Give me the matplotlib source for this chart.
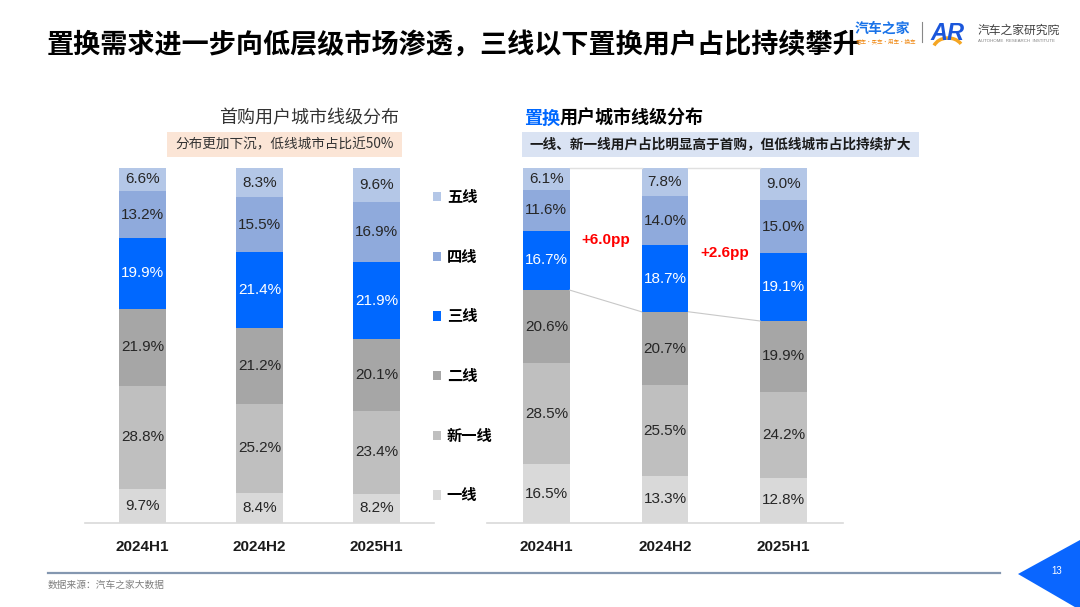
import matplotlib
matplotlib.use("Agg")
import matplotlib.pyplot as plt
from matplotlib.patches import Rectangle, Polygon, Patch, Arc
from matplotlib.lines import Line2D

plt.rcParams['font.family'] = ['Noto Sans CJK SC', 'DejaVu Sans']

# data
periods = ["2024H1", "2024H2", "2025H1"]
tiers = ["一线", "新一线", "二线", "三线", "四线", "五线"]

first_tier1 = [9.7, 8.4, 8.2]
first_new_tier1 = [28.8, 25.2, 23.4]
first_tier2 = [21.9, 21.2, 20.1]
first_tier3 = [19.9, 21.4, 21.9]
first_tier4 = [13.2, 15.5, 16.9]
first_tier5 = [6.6, 8.3, 9.6]

repl_tier1 = [16.5, 13.3, 12.8]
repl_new_tier1 = [28.5, 25.5, 24.2]
repl_tier2 = [20.6, 20.7, 19.9]
repl_tier3 = [16.7, 18.7, 19.1]
repl_tier4 = [11.6, 14.0, 15.0]
repl_tier5 = [6.1, 7.8, 9.0]

pp_labels = ["+6.0pp", "+2.6pp"]

colors = ["#D9D9D9", "#BFBFBF", "#A6A6A6", "#0068FF", "#8FAADC", "#B4C7E7"]
text_colors = ["#262626", "#262626", "#262626", "white", "#262626", "#262626"]

W, H = 1080, 607
def fx(x):
    return x / W
def fy(y):
    return 1 - y / H

fig = plt.figure(figsize=(W / 100, H / 100), dpi=100)
fig.patch.set_facecolor("white")

num_font = ['Liberation Sans', 'DejaVu Sans']


def stacked(ax, series, width):
    bottoms = [0, 0, 0]
    for k, vals in enumerate(series):
        ax.bar(range(3), vals, width, bottom=bottoms, color=colors[k],
               linewidth=0, clip_on=False)
        for i, v in enumerate(vals):
            ax.text(i, bottoms[i] + v / 2, f"{v:.1f}%", ha="center", va="center",
                    fontsize=11, color=text_colors[k], family=num_font)
        bottoms = [b + v for b, v in zip(bottoms, vals)]
    ax.set_ylim(0, 100)
    ax.set_yticks([])
    for s in ["top", "right", "left"]:
        ax.spines[s].set_visible(False)
    ax.spines["bottom"].set_color("#D9D9D9")
    ax.spines["bottom"].set_linewidth(1.2)
    ax.set_xticks(range(3))
    ax.set_xticklabels(periods, fontsize=11, fontweight="bold", family=num_font,
                       color="#1a1a1a")
    ax.tick_params(axis="x", length=0, pad=12)


# left chart: first purchase
ax1 = fig.add_axes([fx(85), 1 - 523 / H, 349 / W, 355 / H])
ax1.set_xlim(-0.49, 2.49)
first_series = [first_tier1, first_new_tier1, first_tier2, first_tier3, first_tier4, first_tier5]
stacked(ax1, first_series, 0.40)

# right chart: replacement
ax2 = fig.add_axes([fx(487), 1 - 523 / H, 356 / W, 355 / H])
ax2.set_xlim(-0.5, 2.5)
repl_series = [repl_tier1, repl_new_tier1, repl_tier2, repl_tier3, repl_tier4, repl_tier5]
w2 = 0.395
stacked(ax2, repl_series, w2)

# connector lines on right chart
below3 = [a + b + c for a, b, c in zip(repl_tier1, repl_new_tier1, repl_tier2)]
for i in range(2):
    ax2.plot([i + w2 / 2, i + 1 - w2 / 2], [below3[i], below3[i + 1]],
             color="#C8C8C8", lw=0.8, clip_on=False)
    ax2.plot([i + w2 / 2, i + 1 - w2 / 2], [100, 100],
             color="#E0E0E0", lw=1.0, clip_on=False)
ax2.text(0.5, 79.7, pp_labels[0], ha="center", va="center", color="#FF0000",
         fontsize=11, fontweight="bold", family=num_font)
ax2.text(1.5, 76.1, pp_labels[1], ha="center", va="center", color="#FF0000",
         fontsize=11, fontweight="bold", family=num_font)

# legend
handles = [Patch(facecolor=colors[k], edgecolor="none") for k in range(5, -1, -1)]
labels = [tiers[k] for k in range(5, -1, -1)]
fig.legend(handles, labels, loc="upper left", bbox_to_anchor=(fx(433), fy(189)),
           frameon=False, handlelength=0.55, handleheight=0.55, handletextpad=0.35,
           labelspacing=2.86, borderpad=0, borderaxespad=0,
           prop={"family": "Noto Sans CJK SC", "weight": "bold", "size": 11})

# main title
fig.text(fx(47), fy(45), "置换需求进一步向低层级市场渗透，三线以下置换用户占比持续攀升",
         fontsize=19.5, fontweight="bold", color="black", va="center", ha="left")

# sub titles
fig.text(fx(309), fy(118), "首购用户城市线级分布", fontsize=13, color="#333333",
         ha="center", va="center")
fig.patches.append(Rectangle((fx(167), fy(157)), 235 / W, 25 / H, transform=fig.transFigure,
                             facecolor="#FBE5D6", edgecolor="none"))
fig.text(fx(284.5), fy(144.5), "分布更加下沉，低线城市占比近50%", fontsize=9.8,
         color="#333333", ha="center", va="center")

fig.text(fx(524), fy(118), "置换", fontsize=13, fontweight="bold", color="#0068FF",
         ha="left", va="center")
fig.text(fx(560), fy(118), "用户城市线级分布", fontsize=13, fontweight="bold",
         color="black", ha="left", va="center")
fig.patches.append(Rectangle((fx(522), fy(157)), 397 / W, 25 / H, transform=fig.transFigure,
                             facecolor="#DAE3F3", edgecolor="none"))
fig.text(fx(720.5), fy(144.5), "一线、新一线用户占比明显高于首购，但低线城市占比持续扩大",
         fontsize=9.8, fontweight="bold", color="#1a1a1a", ha="center", va="center")

# logos
fig.text(fx(855), fy(29), "汽车之家", fontsize=10, fontweight="bold", color="#1A73E8",
         ha="left", va="center")
fig.text(fx(856), fy(41), "看车·买车·用车·换车", fontsize=4, color="#F08C1A",
         ha="left", va="center")
fig.lines.append(Line2D([fx(922), fx(922)], [fy(22), fy(42)], transform=fig.transFigure,
                        color="#888888", lw=0.8))
fig.text(fx(930), fy(33), "AR", fontsize=17, fontweight="bold", color="#1A56DB",
         family=num_font, ha="left", va="center", style="italic")
fig.patches.append(Arc((fx(948), fy(50)), 30 / W, 24 / H, theta1=40, theta2=150,
                       transform=fig.transFigure, color="#F5A623", lw=2.5))
fig.text(fx(978), fy(30), "汽车之家研究院", fontsize=8.5, color="#404040",
         ha="left", va="center")
fig.text(fx(978), fy(41), "AUTOHOME  RESEARCH  INSTITUTE", fontsize=3.2,
         color="#808080", ha="left", va="center", family=num_font)

# footer
fig.lines.append(Line2D([fx(48), fx(1000)], [fy(573), fy(573)], transform=fig.transFigure,
                        color="#8497B0", lw=1.6))
fig.text(fx(48), fy(585), "数据来源：汽车之家大数据", fontsize=7, color="#7F7F7F",
         ha="left", va="center")
fig.patches.append(Polygon([(fx(1018), fy(574)), (fx(1080), fy(540)), (fx(1080), fy(610))],
                           closed=True, transform=fig.transFigure, facecolor="#0A66FF",
                           edgecolor="none"))
fig.text(fx(1057), fy(571), "13", fontsize=7, color="white", ha="center", va="center",
         family=num_font)

fig.savefig("out.png", dpi=100, facecolor="white")
